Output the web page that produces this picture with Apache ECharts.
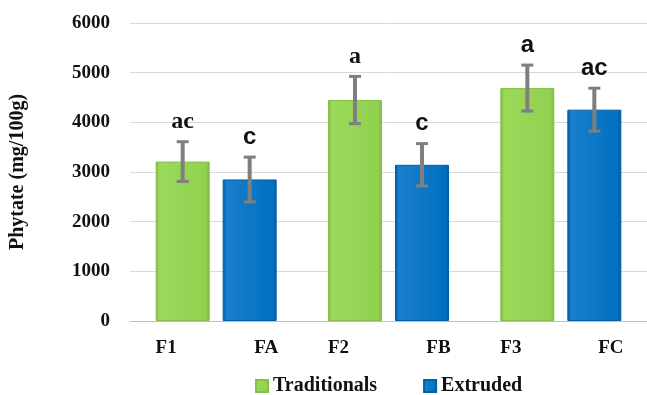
<!DOCTYPE html>
<html>
<head>
<meta charset="utf-8">
<script src="https://cdn.jsdelivr.net/npm/echarts@6/dist/echarts.min.js"></script>
<style>
html,body{margin:0;padding:0;background:#fff;}
#chart{width:647px;height:395px;}
</style>
</head>
<body>
<div id="chart"></div>
<script>
// ---- data ----
var groups = ['G1', 'G2', 'G3'];
var tradLabels = ['F1', 'F2', 'F3'];
var extLabels = ['FA', 'FB', 'FC'];
var tradValues = [3210, 4450, 4690];
var extValues = [2850, 3145, 4255];
var tradErrors = [400, 475, 463];
var extErrors = [450, 427, 432];
var tradLetters = ['ac', 'a', 'a'];
var extLetters = ['c', 'c', 'ac'];
var yTicks = [0, 1000, 2000, 3000, 4000, 5000, 6000];

// ---- style ----
var BAR_W = 54, BAR_GAP = 13;
var SERIF = 'Liberation Serif';
var SANS = 'Liberation Sans';

function barGradient(edge, face, face2) {
  return new echarts.graphic.LinearGradient(0, 0, 1, 0, [
    {offset: 0, color: edge},
    {offset: 0.07, color: face},
    {offset: 0.93, color: face2},
    {offset: 1, color: edge}
  ]);
}
var greenFill = barGradient('#7db443', '#9bd95b', '#92d050');
var blueFill = barGradient('#0058a0', '#1a7fcc', '#0070c0');

function errorSeries(values, errors, letters, side, fonts) {
  var data = values.map(function (v, i) { return [i, v, errors[i], letters[i]]; });
  return {
    type: 'custom',
    data: data,
    z: 10,
    silent: true,
    renderItem: function (params, api) {
      var i = api.value(0), v = api.value(1), e = api.value(2);
      var idx = params.dataIndex;
      var center = api.coord([i, v]);
      var x = center[0] + side * (BAR_W + BAR_GAP) / 2;
      var top = api.coord([i, v + e])[1];
      var bot = api.coord([i, v - e])[1];
      var cap = 6;
      return {
        type: 'group',
        children: [
          {type: 'line', shape: {x1: x, y1: top, x2: x, y2: bot}, style: {stroke: '#7f7f7f', lineWidth: 4}},
          {type: 'line', shape: {x1: x - cap, y1: top, x2: x + cap, y2: top}, style: {stroke: '#7f7f7f', lineWidth: 3}},
          {type: 'line', shape: {x1: x - cap, y1: bot, x2: x + cap, y2: bot}, style: {stroke: '#7f7f7f', lineWidth: 3}},
          {type: 'text', x: x, y: top - 20, style: {
            text: data[idx][3], align: 'center', verticalAlign: 'middle',
            fontFamily: fonts[idx], fontWeight: 'bold', fontSize: 24, fill: '#111'
          }}
        ]
      };
    }
  };
}

var chart = echarts.init(document.getElementById('chart'), null, {renderer: 'canvas'});
chart.setOption({
  animation: false,
  backgroundColor: '#fff',
  grid: {left: 130, right: -14, top: 23, bottom: 74},
  legend: {
    data: ['Traditionals', 'Extruded'],
    left: 250, top: 371,
    icon: 'rect', itemWidth: 12, itemHeight: 12, itemGap: 46,
    textStyle: {fontFamily: SERIF, fontWeight: 'bold', fontSize: 20, color: '#111'}
  },
  xAxis: {
    type: 'category',
    data: groups,
    axisLine: {lineStyle: {color: '#bfbfbf', width: 1}},
    axisTick: {show: false},
    axisLabel: {
      margin: 18,
      formatter: function (val, i) {
        return '{l|' + tradLabels[i] + '}{r|' + extLabels[i] + '}';
      },
      rich: {
        l: {width: 100, align: 'center', fontFamily: SERIF, fontWeight: 'bold', fontSize: 19, color: '#111'},
        r: {width: 100, align: 'center', fontFamily: SERIF, fontWeight: 'bold', fontSize: 19, color: '#111'}
      }
    }
  },
  yAxis: {
    type: 'value',
    min: yTicks[0], max: yTicks[yTicks.length - 1], interval: 1000,
    name: 'Phytate (mg/100g)',
    nameLocation: 'middle',
    nameGap: 102,
    nameTextStyle: {fontFamily: SERIF, fontWeight: 'bold', fontSize: 20, color: '#111'},
    axisLine: {show: false},
    axisTick: {show: false},
    splitLine: {lineStyle: {color: '#d9d9d9', width: 1}},
    axisLabel: {
      margin: 20, fontFamily: SERIF, fontWeight: 'bold', fontSize: 19, color: '#111',
      formatter: function (v) { return String(v); }
    }
  },
  series: [
    {
      name: 'Traditionals', type: 'bar', data: tradValues,
      barWidth: BAR_W, barGap: (BAR_GAP / BAR_W * 100).toFixed(1) + '%',
      itemStyle: {color: greenFill, borderColor: '#86bf49', borderWidth: 1}
    },
    {
      name: 'Extruded', type: 'bar', data: extValues,
      barWidth: BAR_W,
      itemStyle: {color: blueFill, borderColor: '#0060a8', borderWidth: 1}
    },
    errorSeries(tradValues, tradErrors, tradLetters, -1, [SERIF, SERIF, SANS]),
    errorSeries(extValues, extErrors, extLetters, 1, [SANS, SANS, SANS])
  ]
});
</script>
</body>
</html>
